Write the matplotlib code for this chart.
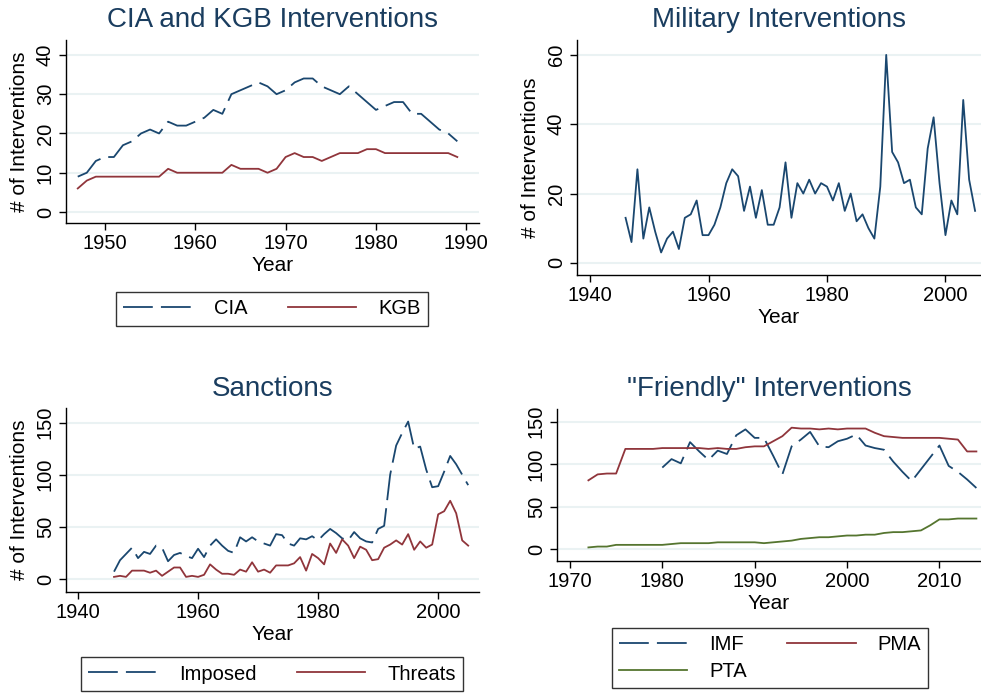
import numpy as np
import matplotlib
matplotlib.use("Agg")
import matplotlib.pyplot as plt

# data
cia_years = list(range(1947, 1990))
cia = [9, 10, 13, 14, 14, 17, 18, 20, 21, 20, 23, 22, 22, 23, 24, 26, 25, 30, 31, 32,
       33, 32, 30, 31, 33, 34, 34, 32, 31, 30, 32, 30, 28, 26, 27, 28, 28, 25, 25, 23,
       21, 20, 18]
kgb = [6, 8, 9, 9, 9, 9, 9, 9, 9, 9, 11, 10, 10, 10, 10, 10, 10, 12, 11, 11,
       11, 10, 11, 14, 15, 14, 14, 13, 14, 15, 15, 15, 16, 16, 15, 15, 15, 15, 15, 15,
       15, 15, 14]

mil_years = list(range(1946, 2006))
military = [13, 6, 27, 7, 16, 9, 3, 7, 9, 4, 13, 14, 18, 8, 8, 11, 16, 23, 27, 25,
            15, 22, 13, 21, 11, 11, 16, 29, 13, 23, 20, 24, 20, 23, 22, 18, 23, 15, 20, 12,
            14, 10, 7, 22, 60, 32, 29, 23, 24, 16, 14, 33, 42, 23, 8, 18, 14, 47, 24, 15]

sanc_years = list(range(1946, 2006))
imposed = [7, 18, 24, 30, 20, 26, 24, 32, 30, 17, 23, 25, 22, 20, 29, 21, 32, 38, 32, 27,
           25, 40, 36, 40, 36, 34, 32, 43, 42, 34, 32, 39, 38, 41, 37, 43, 48, 44, 39, 37,
           45, 39, 36, 35, 48, 51, 100, 128, 140, 151, 125, 127, 105, 88, 89, 103, 118, 110, 100, 90]
threats = [2, 3, 2, 8, 8, 8, 6, 8, 3, 7, 11, 11, 2, 3, 2, 4, 14, 9, 5, 5,
           4, 9, 7, 16, 7, 9, 6, 13, 13, 13, 15, 21, 8, 24, 20, 14, 34, 25, 38, 32,
           20, 31, 28, 18, 19, 30, 33, 37, 33, 43, 28, 36, 30, 33, 62, 65, 75, 63, 37, 32]

imf_years = list(range(1980, 2015))
imf = [96, 106, 101, 126, 115, 105, 116, 112, 134, 141, 131, 131, 110, 88, 121, 129, 138, 121, 120, 127,
       130, 135, 122, 119, 117, 103, 91, 80, 94, 108, 122, 98, 91, 82, 72]
pma_years = list(range(1972, 2015))
pma = [81, 88, 89, 89, 118, 118, 118, 118, 119, 119, 119, 119, 119, 118, 119, 118, 118, 120, 121, 121,
       127, 133, 143, 142, 142, 141, 142, 141, 142, 142, 142, 137, 133, 132, 131, 131, 131, 131, 131, 130,
       129, 115, 115]
pta = [2, 3, 3, 5, 5, 5, 5, 5, 5, 6, 7, 7, 7, 7, 8, 8, 8, 8, 8, 7,
       8, 9, 10, 12, 13, 14, 14, 15, 16, 16, 17, 17, 19, 20, 20, 21, 22, 28, 35, 35,
       36, 36, 36]

navy = "#1a476f"
maroon = "#90353b"
green = "#55752f"
gridc = "#eaf2f3"
dash = (16.5, 4.5)
LW = 1.3

W, H = 981, 694
fig = plt.figure(figsize=(W / 100, H / 100), dpi=100)
plt.rcParams["font.family"] = "Liberation Sans"


def make_ax(x0, y0, x1, y1):
    # pixel box -> figure fraction
    return fig.add_axes([x0 / W, 1 - y1 / H, (x1 - x0) / W, (y1 - y0) / H])


def style(ax, title, xlim, ylim, xticks, yticks, ylabel=True):
    ax.set_xlim(*xlim)
    ax.set_ylim(*ylim)
    ax.set_xticks(xticks)
    ax.set_yticks(yticks)
    for s in ["top", "right"]:
        ax.spines[s].set_visible(False)
    for s in ["left", "bottom"]:
        ax.spines[s].set_linewidth(1.0)
        ax.spines[s].set_color("black")
    ax.tick_params(axis="both", labelsize=14.5, length=5, width=1.0, pad=3)
    for lab in ax.get_yticklabels():
        lab.set_rotation(90)
        lab.set_va("center")
    ax.grid(axis="y", color=gridc, linewidth=1.5)
    ax.set_axisbelow(True)
    ax.set_title(title, fontsize=20, color="#1a3d5f", pad=9)
    ax.set_xlabel("Year", fontsize=15, labelpad=2)
    if ylabel:
        ax.set_ylabel("# of Interventions", fontsize=15, labelpad=5)


def add_legend(ax, handles, cx, cy, ncol=2):
    leg = ax.legend(handles=handles, loc="center", bbox_to_anchor=(cx / W, 1 - cy / H),
                    bbox_transform=fig.transFigure, ncol=ncol, fontsize=14.5,
                    frameon=True, fancybox=False, edgecolor="black",
                    handlelength=3.4, columnspacing=2.0, handletextpad=1.1,
                    borderpad=0.35, labelspacing=0.4, borderaxespad=0)
    leg.get_frame().set_linewidth(1.0)
    return leg


# CIA and KGB
ax1 = make_ax(66, 40, 479, 223)
l1, = ax1.plot(cia_years, cia, color=navy, lw=LW, dashes=dash, label="CIA")
l2, = ax1.plot(cia_years, kgb, color=maroon, lw=LW, label="KGB")
style(ax1, "CIA and KGB Interventions", (1945.7, 1991.4), (-2.8, 43.8),
      [1950, 1960, 1970, 1980, 1990], [0, 10, 20, 30, 40])
add_legend(ax1, [l1, l2], 272, 309)

# Military
ax2 = make_ax(577, 40, 981, 275)
ax2.plot(mil_years, military, color=navy, lw=LW)
style(ax2, "Military Interventions", (1937.8, 2006), (-3.5, 64.3),
      [1940, 1960, 1980, 2000], [0, 20, 40, 60])

# Sanctions
ax3 = make_ax(66, 408, 479, 592)
l3, = ax3.plot(sanc_years, imposed, color=navy, lw=LW, dashes=dash, label="Imposed")
l4, = ax3.plot(sanc_years, threats, color=maroon, lw=LW, label="Threats")
style(ax3, "Sanctions", (1938, 2006.8), (-12.5, 164),
      [1940, 1960, 1980, 2000], [0, 50, 100, 150])
add_legend(ax3, [l3, l4], 272, 674)

# Friendly
ax4 = make_ax(557, 409, 981, 561)
l5, = ax4.plot(imf_years, imf, color=navy, lw=LW, dashes=dash, label="IMF")
l6, = ax4.plot(pma_years, pma, color=maroon, lw=LW, label="PMA")
l7, = ax4.plot(pma_years, pta, color=green, lw=LW, label="PTA")
style(ax4, "\"Friendly\" Interventions", (1968.6, 2014.5), (-14, 165),
      [1970, 1980, 1990, 2000, 2010], [0, 50, 100, 150], ylabel=False)
# column-wise fill: IMF, PTA in col 1 and PMA in col 2
add_legend(ax4, [l5, l7, l6], 770, 658)

fig.savefig("out.png", dpi=100)
